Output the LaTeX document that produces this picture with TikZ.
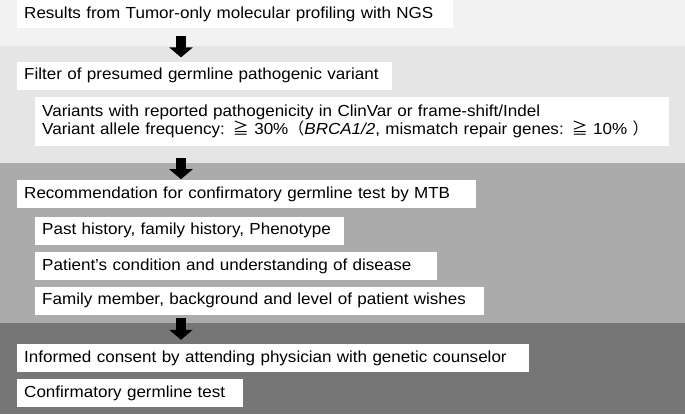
\documentclass[tikz,border=0pt]{standalone}
\usepackage{fontspec}
\setmainfont[FakeStretch=1.065]{Liberation Sans}
\newfontfamily\cjk{Noto Sans CJK JP}
\usetikzlibrary{positioning}
\usetikzlibrary{arrows.meta}
\definecolor{bandA}{HTML}{F2F2F2}
\definecolor{bandB}{HTML}{E5E5E5}
\definecolor{bandC}{HTML}{ABABAB}
\definecolor{bandD}{HTML}{767676}
\tikzstyle{box} = [rectangle, fill=white, inner xsep=7bp, inner ysep=0pt,
    minimum height=28bp, align=left, font=\fontsize{16bp}{18bp}\selectfont]
\tikzstyle{line} = [draw, line width=10bp, -{Triangle[width=23bp,length=10bp]}]

\begin{document}
\begin{tikzpicture}[x=1bp,y=-1bp]
    \useasboundingbox (0,0) rectangle (685,414);
    % Bands
    \fill[bandA] (0,0) rectangle (685,46);
    \fill[bandB] (0,46) rectangle (685,163);
    \fill[bandC] (0,163) rectangle (685,323);
    \fill[bandD] (0,323) rectangle (685,414);

    % Place nodes
    \node[box, anchor=north west, text width=422bp] (results) at (17,0) {Results from Tumor-only molecular profiling with NGS};
    \node[box, below right=33bp and 0bp of results.south west, text width=361bp] (filter) {Filter of presumed germline pathogenic variant};
    \node[box, below right=7bp and 18bp of filter.south west, text width=620bp, minimum height=49bp] (criteria) {Variants with reported pathogenicity in ClinVar or frame-shift/Indel\\
        Variant allele frequency: {\cjk ≧} 30\%{\cjk （}\textit{BRCA1/2}, mismatch repair genes: {\cjk ≧} 10\% {\cjk ）}};

    \node[box, below right=34bp and -18bp of criteria.south west, text width=445bp] (recommend) {Recommendation for confirmatory germline test by MTB};
    \node[box, below right=8bp and 18bp of recommend.south west, text width=295bp] (history) {Past history, family history, Phenotype};
    \node[box, below right=7bp and 0bp of history.south west, text width=388bp] (condition) {Patient’s condition and understanding of disease};
    \node[box, below right=6bp and 0bp of condition.south west, text width=435bp] (wishes) {Family member, background and level of patient wishes};

    \node[box, below right=29bp and -18bp of wishes.south west, text width=498bp] (consent) {Informed consent by attending physician with genetic counselor};
    \node[box, below right=7bp and 0bp of consent.south west, text width=212bp] (test) {Confirmatory germline test};

    \coordinate (ax) at (181,0);

    % Draw arrows
    \path [line, shorten <=8bp, shorten >=4bp] (results.south -| ax) -- (filter.north -| ax);
    \path [line, shorten <=12bp, shorten >=1bp] (criteria.south -| ax) -- (recommend.north -| ax);
    \path [line, shorten <=3bp, shorten >=4bp] (wishes.south -| ax) -- (consent.north -| ax);

\end{tikzpicture}
\end{document}
